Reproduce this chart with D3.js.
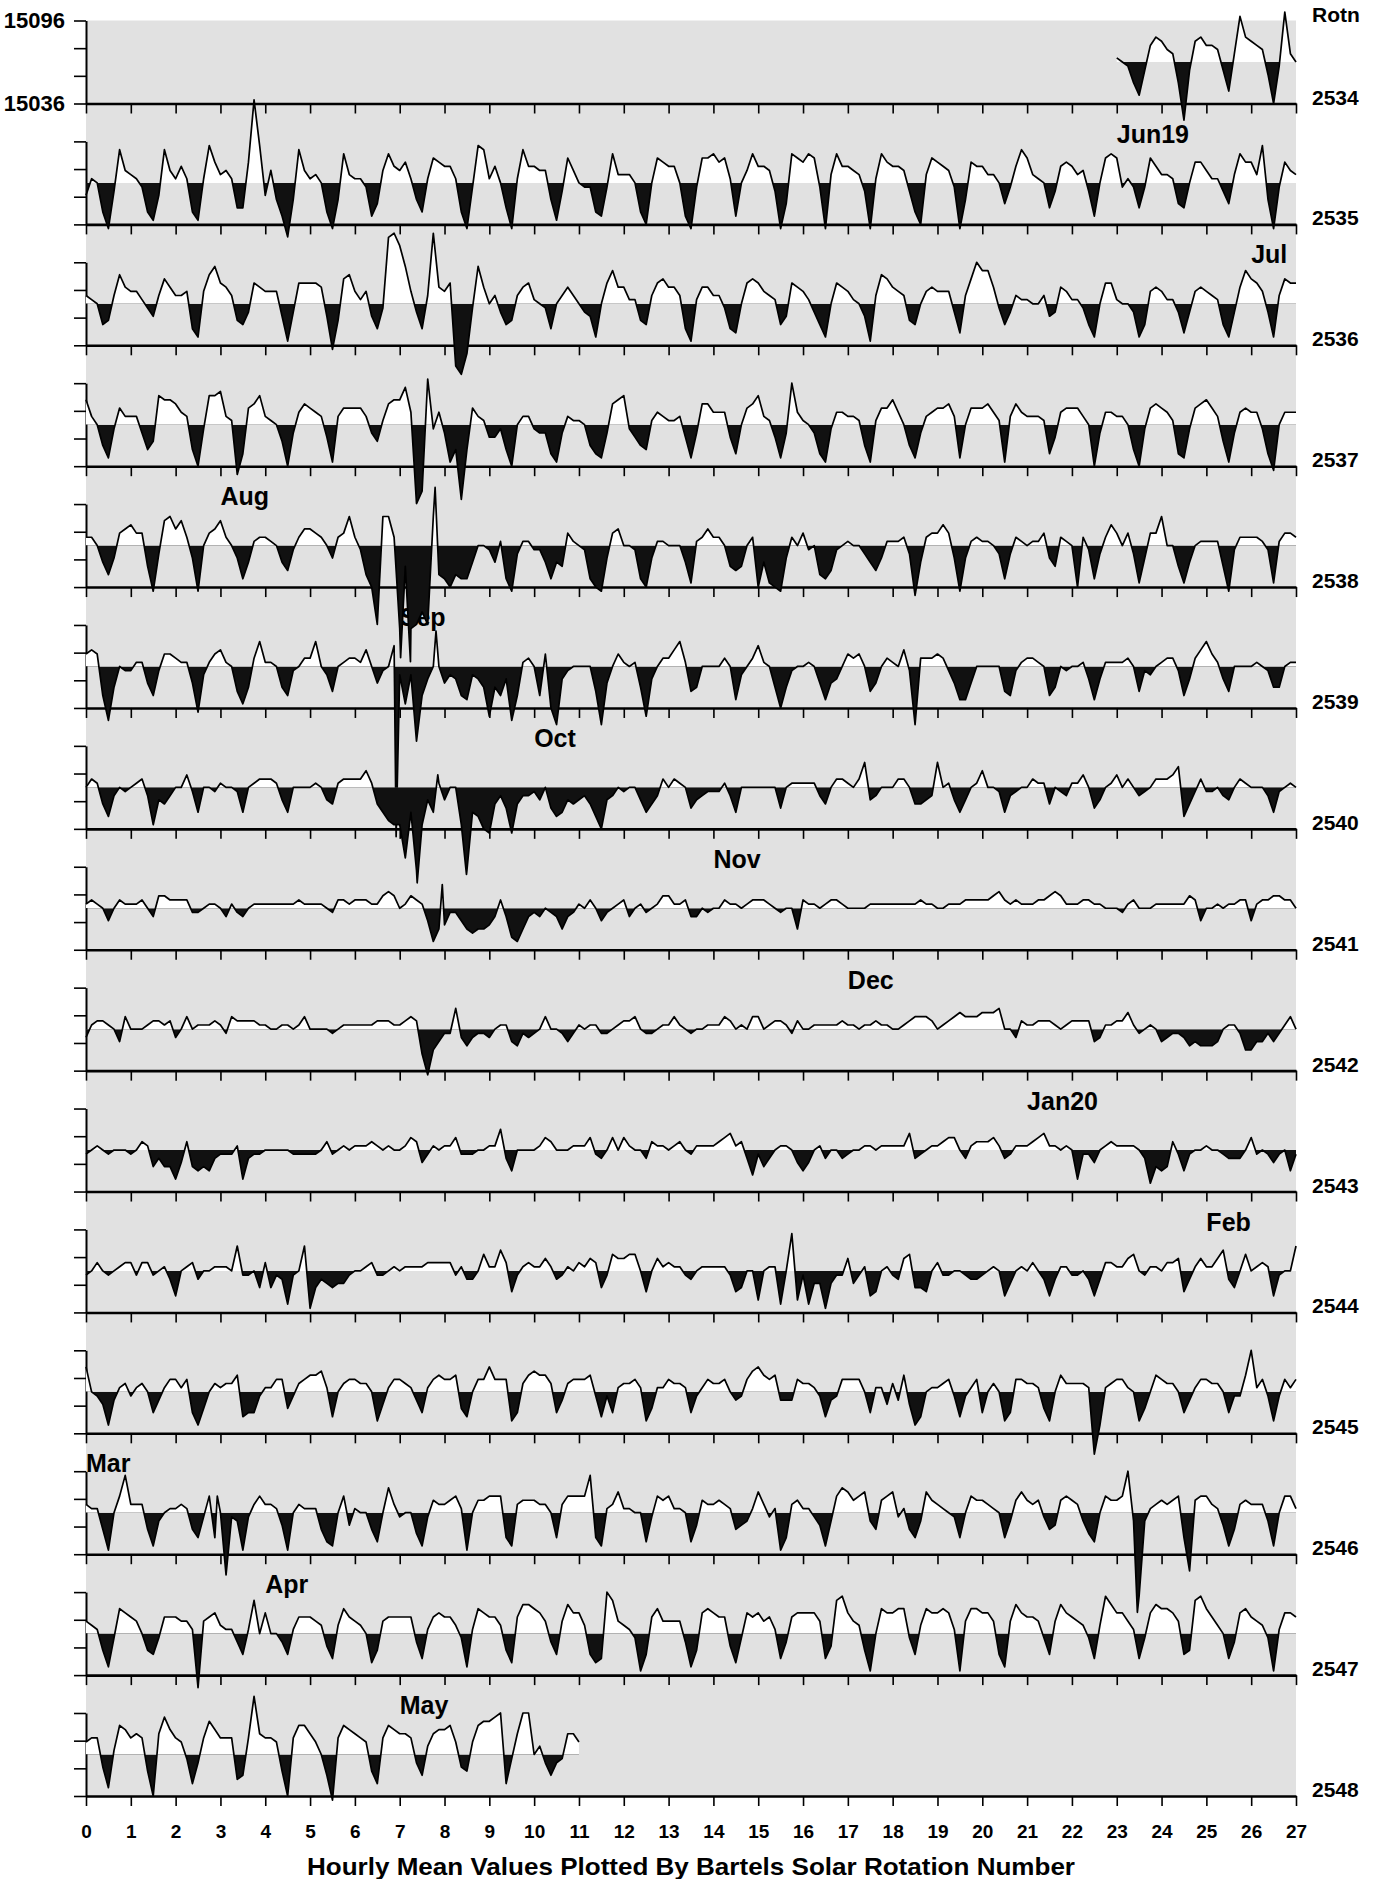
<!DOCTYPE html>
<html>
<head>
<meta charset="utf-8">
<script src="https://d3js.org/d3.v7.min.js"></script>
<style>
  body { margin: 0; background: #ffffff; }
  text { font-family: "Liberation Sans", Arial, Helvetica, sans-serif; font-weight: bold; }
</style>
</head>
<body>
<div class="chart"></div>
<script>
var svgWidth = 1375;
var svgHeight = 1879;

// one panel per Bartels rotation
var rotations = [2534, 2535, 2536, 2537, 2538, 2539, 2540, 2541, 2542, 2543, 2544, 2545, 2546, 2547, 2548];

// day of the rotation where each trace starts
var startDay = [23, 0, 0, 0, 0, 0, 0, 0, 0, 0, 0, 0, 0, 0, 0];

// hourly means every 3 hours, one character per sample
// "A" = panel baseline, "K" = reference level, one step = 3 nT, digits lie below the baseline
var traces = [
  "LKJFCIOQ PNMF6IPQ OONIDMVQ PONHAJWM K",
  "HLKD9ISN MLJDBHSN LOLDBLTP MNLEEPeT HNGC7GSN LMKD9GRM LLJCFNRO NPLGDLQP OOLD9JTS LOKE9LSO ONNGBIQN KJJDCJRM MMKDAKQP OOKC9JQQ RPQLCKNR OONI9FRQ PRQJ9MRO ONMI9LRP OONIDAMQ PONJ9GPO OMMKFJOS QMLKEIOP OMNICKQR QJLJEJQO MMLFEKPP NLLIFMRP PMTG9JPN M",
  "MLKFGMRO NNLJHMQO MMNECNRT POMGFIPO NNNHBIPP PPOH9GQR NLNHEJab YTNIEMbO NP538JTO KMIFGMOP LKJEKMOM KIHCKPSO OLLGFMPQ OOMEBLOO MMJEDKPQ PNMLFHPO NLIFCKPO NLKHBMRQ ONMGFKNO NNNIDMQU SSOJFIML LKKMHION LLJFCKPP LKKICFNO NLLIDINO NMLFCIOS QPNICMQP P",
  "QMKFCJOM MMIEGRQQ PNMEAJRR SML8DOPR MLKGAINP ONMHBMOO OOMIGLPQ QTN14VJN IBE2EOML HHJEAKMM JIIDBIML LKFDCIPQ RJHFELNM LLMHCIPP NNNHDKOP RMLHCIUN LKIDBJNN MMLFBLOO QNKFCIMN OOPMCKOO OPNLBMPN MMMLDHNO OOMKAINN MMKEAJOP ONLDCJOP QOMGBINO NNJD9KNN N",
  "MMKGDHNO PNNF9IQR OQMH9KNO QMKHCGLM MLKGEJMO ONMKHMNR MJDA1RRM 0F0141RD CADCCGKK JGLC9ILL JJGCGFNL KJCA9HNO KKJCAHLL KKKGBLMO MMKFEFKM AGBA9HMK NJKDCEJK LKKIGEHL LLMI8GMN NPNH9HLM LLKICIML KLLNHFML KAMJCIMP NKNIBHNN RKKFBGKL LLLF9JMM MMLJBLNN M",
  "NOND7FKJ JLLGDJNN MLLG9ILN OLKEBFMQ LLKFDJKM MQKIEKLM MLOKGJKP IBI2DHKK GIHDCIHF 8FDH7DLM KDNA6HJK KKKE6GKN LKLF8HKM MOQLEFKK KKMKCIKM PLKFAFJK KLKGCGHK NMNKEGKM LKOJ6MMM NMJGCCGK KKKKEDJL MMLKDFKJ KKLHCHLL LLMKEJIK LMMJDHMO QNLHEKKK KLKJFFKL L",
  "KMLGDIKJ KLMIBHGI KKNJEKKJ LKKJEKLM MMLHEKKK KLKHGLMM MMOLGECB B3E0BHEL HKKB0EDA 9GIF9GII JHKFDEHG HIGDAHIK JKKHEGIM KMLKFHIJ JJLIEKKK KKKKFKLL LLLIGKMM LKMQHIKK KMMKGGHI QKLHEHKL OKKJEIJK KMLLGKJI LLNKFHKL NKMKIJKM MMNPDGJM JJKIHKML KKKIEJKL K",
  "LMLKHKML LLMKINNM MMMJJKLL KILJIKLL LLLLLLML LLLKJMML MMMLLNON KLNMLHCF GJJHFEFF GIMIDCFI JIKJIFIJ LKMKHJKL MIKLJKLN NLLMIIKJ KKMLLKLM MMLKJKKF MLLKLMML KKKKLLLL LLLLLMLL KKLLLMMM MMNOMLML LLMMNONL LLMMLLKK KJLMKKKL LLLLLNMH KKLKLLMM HLMMNNMM K",
  "ILMMLKHN KKKLMMLM IKNKLLLM LJNMMMML LKKLLKLN KKKKJKLL LLLLMMML LMNME9FH JJPIGIJJ IKLLHGJI JKNKKJHJ LKLLJJKL MMNKJJKL LNLKJKKL LLNMKLKN NKLMMLJM KKLLLLLM LLKLLMLL KKLMNNNM KLMNONNN OOOPKKIM LLMMMLKL MMMMHILL MMOLJKLK HIJJIGHG GGHKLLJF FHHJHJLN K",
  "JKLKJKKK JKMLGIGG DHMGFGFI JJJLDIJJ KKKKKJJJ JJKMJKLK LLLMLKLK KLNMHJLK LLNJJJKK LLPIFKKK KLNMKKKL LLNJIKNK NLKKIMLL KLMKJLLL LMNOLMIE JGIKLLKH FHKLIKKI JKKLLKLL LLLOIJKL LMNNKILM MMNLIJLL LMNOLLKL KDJJHKLM LLLLKICG FGMJFJKK LKKJIIIK NJKJHJKF J",
  "JKMKJKLM MJMMJKLI EKLMIKKL LLKQJJKG MGJICJKQ BGIHGHHJ KKLMJJKL KLLLLMMM MMJLIIKO LLPMFJLM LLNLIJLK MLNMGJON NOOKFKNL MLLJIKLL LLLJFGKK DKLLCKTD JCHHBHJJ NHJLEFKL JINOGGFK MJJKKJII JKLKEHKL KMKIEILL JJKIEIMM LLNOKJLL KMMNFILN LLNPIGKO KLMLEJKK Q",
  "QKJHCILM JLMKFILN NLNFCGKM LMMOEFFJ LLNNGJMN OOPLEKMN NMMKDHLN NMLIFLNO NNOGEKNN QNNNDFMO POOMFIMN NNOJEJFL MMNLDGLL NMMLFJLN MMNKIJNP QONOIIIN MMLJEIJN NNNKFLLH MIOHCEKL LMNJEJLN FKMKDFNN MMLGDKOM MMML5CLM NNLKDGKO NMMKFILN NMMKFJJO ULNJDJNL N",
  "MLLGBKOT MMMGCIKL LMLGEJOE K5JIBJMO MMLHBKML LLGDCKOH LKKGDKQM JKKFCJNM MNOLBKNN OOOECMNN NMMKEMOO OOTECLMP LLKKDJON OLLKDHNM MNMLGHIL PMJLBEMN LLJHCIOQ PNOPIGNO PJLGEIPN MLKJEKON NMLKEINP NMNJGHNO NMIFDKON NOUI0ILM NMNOE6NO OMLHCGMN MMMICKOO L",
  "NMLGCJQP ONKGFJOO ONNL7NOP MLLIFLSK PKKIFLOO ONMHEMQO NMKDGNOO OOOIELOP OOMJCLQP OOMGDORR QPNIFNRP PMFDEUSN MLJBFOQN NNNICGPQ POOHDJPO PNOLEIOP PPPNEHST PNMGBKQP PQQJFMQP PQPLBNQQ PPNFCNRP OONJFNRP ONMJEMTR PPNLEJPR QQPNFGST QOMKEIPQ ONMJBLPP O",
  "NOOHCLRQ OPOGAPTQ ONJDIOSQ OOOEFOYP OONGAORR PNKF9ORQ PONGDORQ PPOIFMPQ QRNHGNRS STUDJPUU KMIFIJPP N"
];

// short storm spikes that fall between the 3-hour samples: [day, steps]
var spikes = [
  [], [], [], [],
  [[7.02, -17], [7.24, -18], [7.79, 24]],
  [[6.92, -31], [7.81, 18.5]],
  [[7.39, -13], [7.85, 13], [8.49, -11]],
  [[7.95, 15.7]],
  [], [], [], [],
  [[2.93, 14], [23.46, -14]],
  [], []
];

var dayLabels = d3.range(0, 28);
var levelLabels = ["15096", "15036"];
var levelValues = [60, 0];

var monthNames = ["Jun19", "Jul", "Aug", "Sep", "Oct", "Nov", "Dec", "Jan20", "Feb", "Mar", "Apr", "May"];
var monthRot = [2534, 2535, 2537, 2538, 2539, 2540, 2541, 2542, 2543, 2545, 2546, 2547];
var monthDay = [23, 26, 3, 7, 10, 14, 17, 21, 25, 0, 4, 7];

var codes = "0123456789ABCDEFGHIJKLMNOPQRSTUVWXYZabcdefghijklmnopqrstuvwxyz";
var STEP = 3;   // nT per code step
var REF = 30;   // nT above baseline where fill switches white/black

// scales
var xScale = d3.scaleLinear().domain([0, 27]).range([86, 1296]);
var yScale = d3.scaleLinear().domain([0, 60]).range([0, -83]);      // nT above a panel baseline
var panelY = d3.scaleLinear().domain([0, 14]).range([103.5, 1796]); // baseline of each panel

function decode(str, start, extra) {
  var s = str.replace(/\s+/g, "");
  var pts = [];
  for (var k = 0; k < s.length; k++) {
    pts.push([start + k / 8, (codes.indexOf(s[k]) - 10) * STEP]);
  }
  extra.forEach(function(e) { pts.push([e[0], e[1] * STEP]); });
  pts.sort(function(a, b) { return a[0] - b[0]; });
  return pts;
}

var svg = d3.select(".chart")
  .append("svg")
  .attr("width", svgWidth)
  .attr("height", svgHeight);

var defs = svg.append("defs");

// gray plotting background
svg.append("rect")
  .attr("x", xScale(0))
  .attr("y", panelY(0) + yScale(60))
  .attr("width", xScale(27) - xScale(0))
  .attr("height", panelY(14) - panelY(0) - yScale(60))
  .attr("fill", "#e1e1e1");

// axes for every panel
rotations.forEach(function(rot, i) {
  var g = svg.append("g").attr("transform", `translate(0, ${panelY(i)})`);

  var bottomAxis = d3.axisBottom(xScale)
    .tickValues(dayLabels)
    .tickSize(10)
    .tickSizeOuter(0)
    .tickPadding(19)
    .tickFormat(i === rotations.length - 1 ? d3.format("d") : "");

  var xAxis = g.append("g").classed("x-axis", true).call(bottomAxis);
  xAxis.select(".domain").attr("stroke", "#000").attr("stroke-width", 2.6);
  xAxis.selectAll(".tick line").attr("stroke", "#000").attr("stroke-width", 1.6);
  xAxis.selectAll(".tick text")
    .attr("font-size", "19px")
    .attr("font-family", "Liberation Sans, Arial, sans-serif")
    .attr("font-weight", "bold")
    .attr("fill", "#000");

  var leftAxis = d3.axisLeft(yScale)
    .tickValues([0, 20, 40, 60])
    .tickSize(12)
    .tickSizeOuter(0)
    .tickFormat("");

  var yAxis = g.append("g")
    .classed("y-axis", true)
    .attr("transform", `translate(${xScale(0)}, 0)`)
    .call(leftAxis);
  yAxis.select(".domain").attr("stroke", "#000").attr("stroke-width", 2);
  yAxis.selectAll(".tick line").attr("stroke", "#000").attr("stroke-width", 1.6);

  // rotation number on the right
  g.append("text")
    .attr("x", 1312)
    .attr("y", 1)
    .attr("font-size", "21px")
    .attr("fill", "#000")
    .text(rot);

  // clip regions above / below the reference level
  defs.append("clipPath").attr("id", "above" + i)
    .append("rect")
    .attr("x", 0).attr("y", -1000)
    .attr("width", svgWidth).attr("height", 1000 + yScale(REF));
  defs.append("clipPath").attr("id", "below" + i)
    .append("rect")
    .attr("x", 0).attr("y", yScale(REF))
    .attr("width", svgWidth).attr("height", 1000);
});

// field level labels on the first panel
levelLabels.forEach(function(lab, k) {
  svg.append("text")
    .attr("x", 65)
    .attr("y", panelY(0) + yScale(levelValues[k]))
    .attr("dy", "0.36em")
    .attr("text-anchor", "end")
    .attr("font-size", "22px")
    .attr("fill", "#000")
    .text(lab);
});

svg.append("text")
  .attr("x", 1312)
  .attr("y", 22)
  .attr("font-size", "21px")
  .attr("fill", "#000")
  .text("Rotn");

// month markers
monthNames.forEach(function(name, k) {
  var idx = rotations.indexOf(monthRot[k]);
  svg.append("text")
    .attr("x", xScale(monthDay[k]))
    .attr("y", panelY(idx) + 39)
    .attr("font-size", "25px")
    .attr("fill", "#000")
    .text(name);
});

// traces
var area = d3.area()
  .x(d => xScale(d[0]))
  .y0(yScale(REF))
  .y1(d => yScale(d[1]));

var line = d3.line()
  .x(d => xScale(d[0]))
  .y(d => yScale(d[1]));

rotations.forEach(function(rot, i) {
  var pts = decode(traces[i], startDay[i], spikes[i]);
  var g = svg.append("g").attr("transform", `translate(0, ${panelY(i)})`);

  g.append("path").datum(pts)
    .attr("d", area)
    .attr("fill", "#ffffff")
    .attr("clip-path", `url(#above${i})`);

  g.append("path").datum(pts)
    .attr("d", area)
    .attr("fill", "#111111")
    .attr("clip-path", `url(#below${i})`);

  g.append("path").datum(pts)
    .attr("d", line)
    .attr("fill", "none")
    .attr("stroke", "#000")
    .attr("stroke-width", 1.7)
    .attr("stroke-linejoin", "round");
});

// x axis title
svg.append("text")
  .attr("x", (xScale(0) + xScale(27)) / 2)
  .attr("y", 1875)
  .attr("text-anchor", "middle")
  .attr("font-size", "24px")
  .attr("textLength", 768)
  .attr("lengthAdjust", "spacingAndGlyphs")
  .attr("fill", "#000")
  .text("Hourly Mean Values Plotted By Bartels Solar Rotation Number");
</script>
</body>
</html>
